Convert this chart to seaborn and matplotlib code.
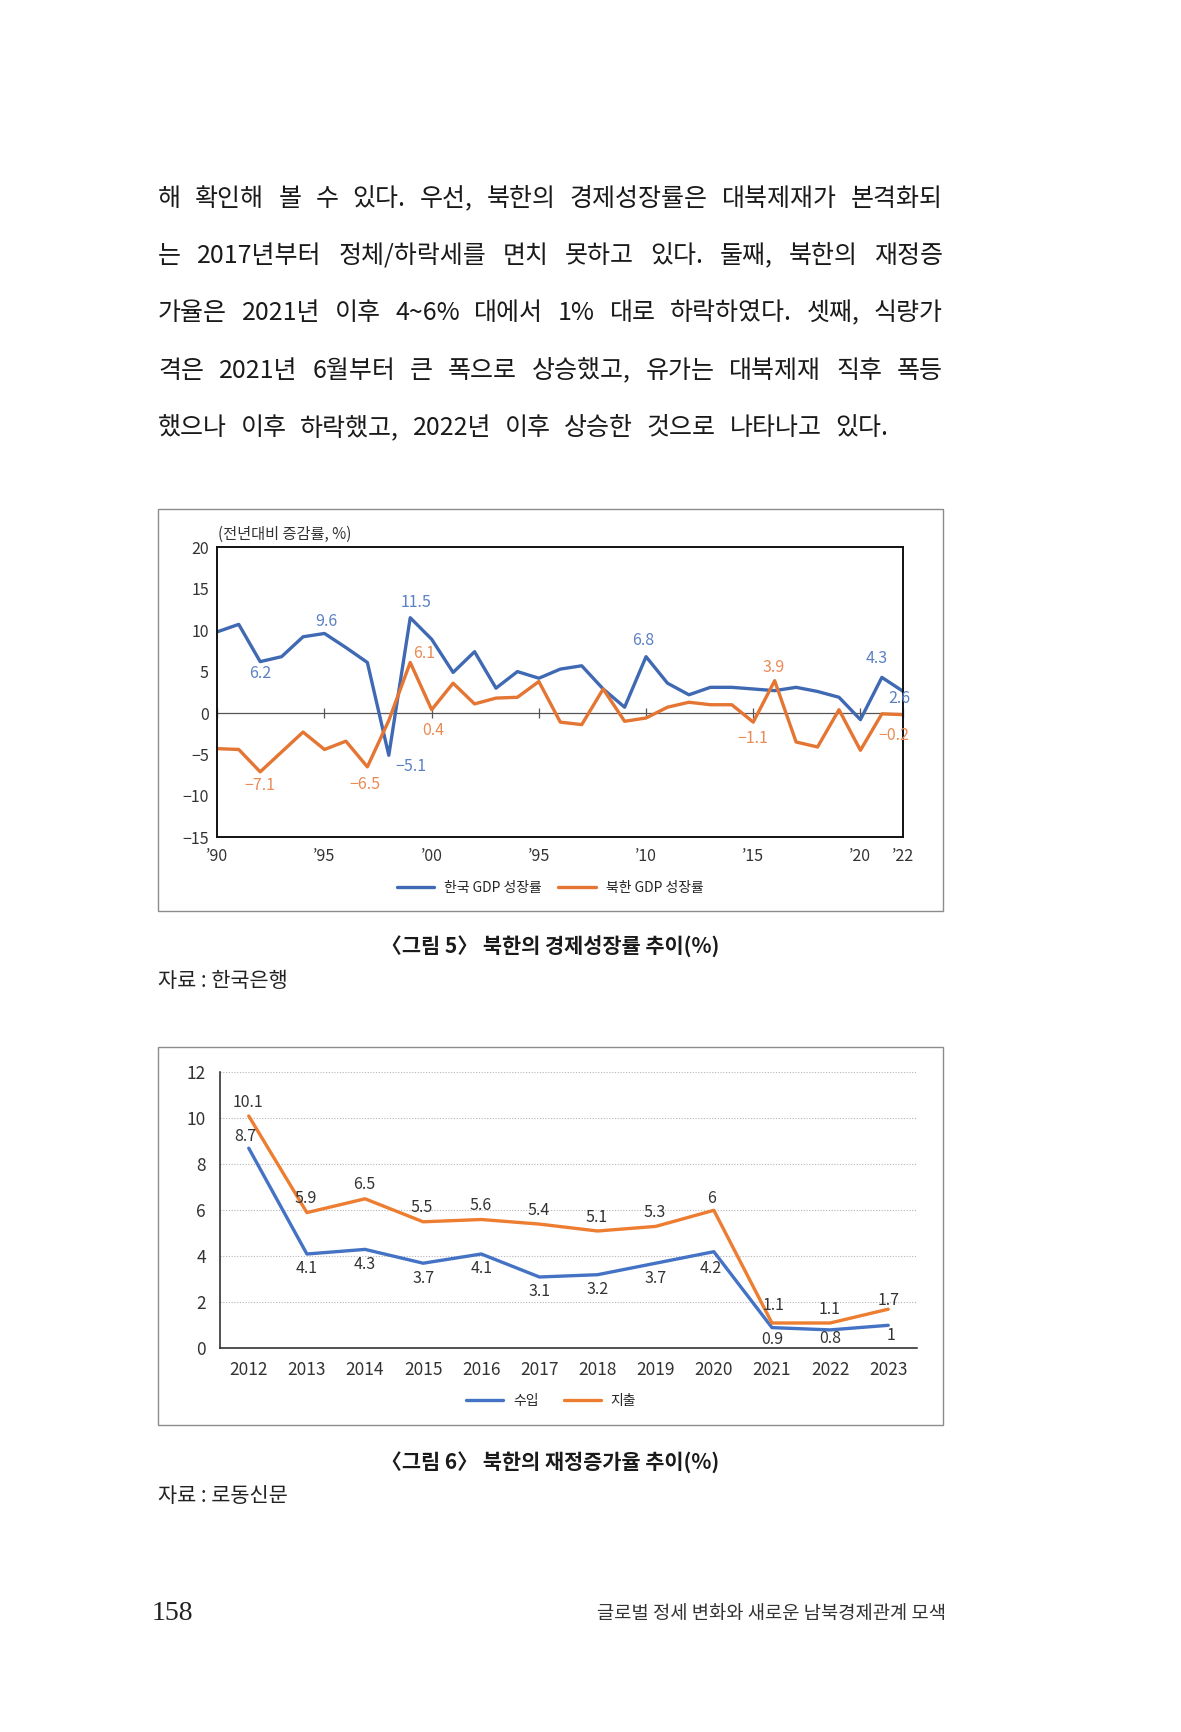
import pandas as pd
import matplotlib
matplotlib.use("Agg")
import matplotlib.pyplot as plt
import seaborn as sns
from matplotlib.patches import Rectangle

sns.set_style("white")
plt.rcParams['font.family'] = ['Noto Sans CJK KR', 'DejaVu Sans']
plt.rcParams['axes.unicode_minus'] = True

# ---- data: 그림 5 (GDP growth, 1990-2022)
years = list(range(1990, 2023))
korea_gdp = [9.8, 10.7, 6.2, 6.8, 9.2, 9.6, 7.9, 6.1, -5.1, 11.5, 8.9, 4.9, 7.4,
             3.0, 5.0, 4.2, 5.3, 5.7, 2.9, 0.7, 6.8, 3.6, 2.2, 3.1, 3.1, 2.9,
             2.7, 3.1, 2.6, 1.9, -0.8, 4.3, 2.6]
nk_gdp = [-4.3, -4.4, -7.1, -4.7, -2.3, -4.4, -3.4, -6.5, -0.9, 6.1, 0.4, 3.6,
          1.1, 1.8, 1.9, 3.8, -1.1, -1.4, 2.9, -1.0, -0.6, 0.7, 1.3, 1.0, 1.0,
          -1.1, 3.9, -3.5, -4.1, 0.4, -4.5, -0.1, -0.2]
gdp_series = ["한국 GDP 성장률", "북한 GDP 성장률"]
x_ticks5 = [1990, 1995, 2000, 2005, 2010, 2015, 2020, 2022]
x_labels5 = ["’90", "’95", "’00", "’95", "’10", "’15", "’20", "’22"]

# ---- data: 그림 6 (fiscal growth, 2012-2023)
fiscal_years = list(range(2012, 2024))
revenue = [8.7, 4.1, 4.3, 3.7, 4.1, 3.1, 3.2, 3.7, 4.2, 0.9, 0.8, 1]
spending = [10.1, 5.9, 6.5, 5.5, 5.6, 5.4, 5.1, 5.3, 6, 1.1, 1.1, 1.7]
fiscal_series = ["수입", "지출"]

# ---- page text
body_lines = [
    "해 확인해 볼 수 있다. 우선, 북한의 경제성장률은 대북제재가 본격화되",
    "는 2017년부터 정체/하락세를 면치 못하고 있다. 둘째, 북한의 재정증",
    "가율은 2021년 이후 4~6% 대에서 1% 대로 하락하였다. 셋째, 식량가",
    "격은 2021년 6월부터 큰 폭으로 상승했고, 유가는 대북제재 직후 폭등",
    "했으나 이후 하락했고, 2022년 이후 상승한 것으로 나타나고 있다.",
]

W, H = 1181, 1732
fig = plt.figure(figsize=(W / 100, H / 100), dpi=100)
fig.patch.set_facecolor("white")
R = fig.canvas.get_renderer()


def fx(px):
    return px / W


def fy(py):
    return 1 - py / H


def fmt(v):
    return f"{v:g}".replace("-", "−")


# body paragraph, justified by word spacing (last line a bit shorter)
for i, line in enumerate(body_lines):
    y = fy(199 + i * 57.2)
    right = 888 if i == len(body_lines) - 1 else 943
    words = line.split(" ")
    objs = [fig.text(0, y, w, fontsize=18, va="center", ha="left", color="#1a1a1a") for w in words]
    widths = [o.get_window_extent(R).width for o in objs]
    gap = (right - 158 - sum(widths)) / (len(words) - 1)
    x = 158
    for o, w in zip(objs, widths):
        o.set_x(fx(x))
        x += w + gap

# ================= 그림 5 =================
blue5, orange5 = "#4069b3", "#e47533"
blue5_t, orange5_t = "#5b80c4", "#ea8a55"
fig.add_artist(Rectangle((fx(158), fy(911)), fx(785), 402 / H, transform=fig.transFigure,
                         fill=False, edgecolor="#8c8c8c", lw=1.0))
ax1 = fig.add_axes([fx(217.3), fy(837.3), fx(686), 290 / H])
df5 = pd.DataFrame({"year": years * 2, "value": korea_gdp + nk_gdp,
                    "series": [gdp_series[0]] * len(years) + [gdp_series[1]] * len(years)})
sns.lineplot(data=df5, x="year", y="value", hue="series", palette=[blue5, orange5],
             linewidth=2.4, ax=ax1)
ax1.axhline(0, color="#555555", lw=0.9, zorder=0)
ax1.set_xlim(1990, 2022)
ax1.set_ylim(-15, 20)
ax1.set_yticks(range(-15, 21, 5))
ax1.set_xticks(x_ticks5)
ax1.set_xticklabels(x_labels5)
ax1.set_xlabel("")
ax1.set_ylabel("")
ax1.tick_params(axis="x", length=0, pad=8, labelsize=11.5, colors="#333333")
ax1.tick_params(axis="y", direction="out", length=4.5, width=0.9, pad=1.5, labelsize=11.5,
                labelcolor="#333333", color="#222222")
for s in ax1.spines.values():
    s.set_color("#111111")
    s.set_linewidth(1.4)
sec = ax1.secondary_xaxis(15 / 35)
sec.set_xticks(x_ticks5)
sec.set_xticklabels([])
sec.tick_params(direction="inout", length=7, width=0.9, color="#555555")
sec.spines["bottom"].set_visible(False)

korea_notes = {1992: (0, -12), 1995: (2, 12), 1999: (6, 15), 1998: (22, -11),
               2010: (-3, 16), 2021: (-5, 19), 2022: (-4, -7)}
nk_notes = {1992: (0, -14), 1997: (-2, -18), 1999: (14, 9), 2000: (2, -21),
            2016: (-1, 13), 2015: (0, -16), 2022: (-9, -21)}
for notes, vals, col in [(korea_notes, korea_gdp, blue5_t), (nk_notes, nk_gdp, orange5_t)]:
    for yr, (dx, dy) in notes.items():
        v = vals[years.index(yr)]
        ax1.annotate(fmt(v), (yr, v), xytext=(dx / 1.389, dy / 1.389), textcoords="offset points",
                     ha="center", va="center", fontsize=11.5, color=col)

fig.text(fx(218), fy(534), "(전년대비 증감률, %)", fontsize=11, color="#333333",
         ha="left", va="center")
sns.move_legend(ax1, "center", bbox_to_anchor=(fx(550), fy(888)), bbox_transform=fig.transFigure,
                ncol=2, frameon=False, title=None, fontsize=10, handlelength=2.7,
                handletextpad=0.7, columnspacing=1.2)

fig.text(fx(550), fy(947), "〈그림 5〉 북한의 경제성장률 추이(%)", fontsize=15, fontweight="bold",
         ha="center", va="center", color="#1a1a1a")
fig.text(fx(158), fy(981), "자료 : 한국은행", fontsize=15, ha="left", va="center", color="#222222")

# ================= 그림 6 =================
blue6, orange6 = "#4472c4", "#ed7d31"
fig.add_artist(Rectangle((fx(158), fy(1425)), fx(785), 378 / H, transform=fig.transFigure,
                         fill=False, edgecolor="#8c8c8c", lw=1.0))
ax2 = fig.add_axes([fx(219.7), fy(1348.3), fx(697.6), 276 / H])
df6 = pd.DataFrame({"year": fiscal_years * 2, "value": revenue + spending,
                    "series": [fiscal_series[0]] * len(fiscal_years) + [fiscal_series[1]] * len(fiscal_years)})
sns.lineplot(data=df6, x="year", y="value", hue="series", palette=[blue6, orange6],
             linewidth=2.4, ax=ax2)
ax2.set_xlim(fiscal_years[0] - 0.5, fiscal_years[-1] + 0.5)
ax2.set_ylim(0, 12)
ax2.set_yticks(range(0, 13, 2))
ax2.set_xticks([y - 0.5 for y in fiscal_years] + [fiscal_years[-1] + 0.5])
ax2.set_xticklabels([])
ax2.set_xticks(fiscal_years, minor=True)
ax2.set_xticklabels([str(y) for y in fiscal_years], minor=True)
ax2.set_xlabel("")
ax2.set_ylabel("")
ax2.yaxis.grid(True, linestyle=(0, (1, 1.5)), color="#b5b5b5", lw=0.8)
ax2.set_axisbelow(True)
ax2.tick_params(axis="x", which="major", direction="out", length=4, width=0.9, color="#222222")
ax2.tick_params(axis="x", which="minor", length=0, pad=9.5, labelsize=12.5, labelcolor="#333333")
ax2.tick_params(axis="y", direction="out", length=5.5, width=0.9, pad=4.5, labelsize=12.5,
                labelcolor="#333333", color="#222222")
sns.despine(ax=ax2)
for s in ["left", "bottom"]:
    ax2.spines[s].set_color("#222222")
    ax2.spines[s].set_linewidth(1.1)

rev_offsets = {2012: (-3, 12), 2020: (-3, -17), 2021: (0, -12), 2022: (0, -9), 2023: (3, -10)}
spd_offsets = {2021: (2, 18), 2023: (0, 9), 2020: (-2, 12)}
for i, yr in enumerate(fiscal_years):
    dx, dy = rev_offsets.get(yr, (0, -15))
    ax2.annotate(fmt(revenue[i]), (yr, revenue[i]), xytext=(dx / 1.389, dy / 1.389),
                 textcoords="offset points", ha="center", va="center", fontsize=11.5, color="#333333")
    dx, dy = spd_offsets.get(yr, (-1, 14))
    ax2.annotate(fmt(spending[i]), (yr, spending[i]), xytext=(dx / 1.389, dy / 1.389),
                 textcoords="offset points", ha="center", va="center", fontsize=11.5, color="#333333")

sns.move_legend(ax2, "center", bbox_to_anchor=(fx(551), fy(1401)), bbox_transform=fig.transFigure,
                ncol=2, frameon=False, title=None, fontsize=10, handlelength=2.7,
                handletextpad=0.7, columnspacing=1.8)

fig.text(fx(550), fy(1462), "〈그림 6〉 북한의 재정증가율 추이(%)", fontsize=15, fontweight="bold",
         ha="center", va="center", color="#1a1a1a")
fig.text(fx(158), fy(1496), "자료 : 로동신문", fontsize=15, ha="left", va="center", color="#222222")

# footer
fig.text(fx(152), fy(1613), "158", fontsize=20, family="Liberation Serif", ha="left", va="center",
         color="#222222")
fig.text(fx(946), fy(1613), "글로벌 정세 변화와 새로운 남북경제관계 모색", fontsize=13.5, ha="right",
         va="center", color="#333333")

fig.savefig("out.png", dpi=100, facecolor="white")
